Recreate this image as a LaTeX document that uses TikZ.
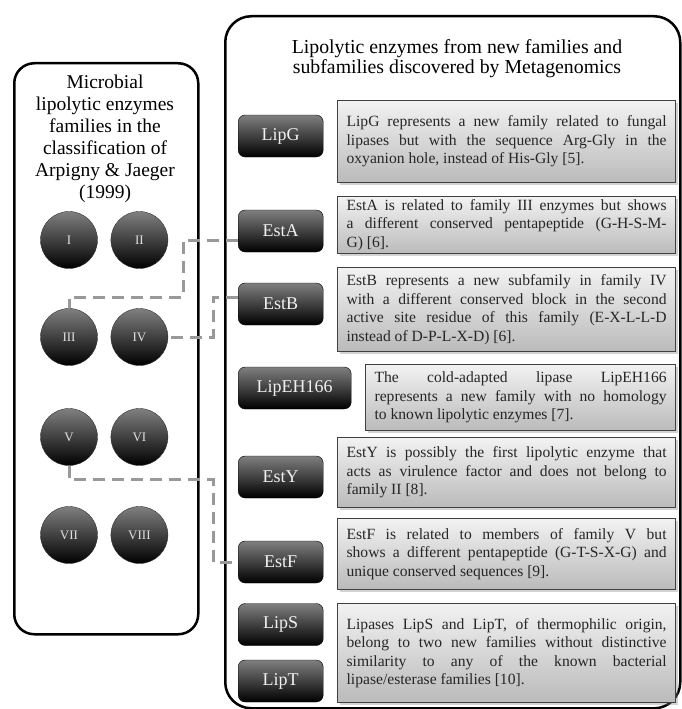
\documentclass[tikz,border=0pt]{standalone}
\usepackage{fontspec}
\setmainfont{Liberation Serif}
\usetikzlibrary{positioning}
\usetikzlibrary{shadows}
\newcommand{\descfont}{\fontsize{15.6}{18.5}\selectfont}
\tikzset{panel/.style={draw,line width=2.5pt,rounded corners=20pt,inner sep=0pt,anchor=north west}}
\tikzset{family/.style={circle,draw=black!80,top color=black!50,bottom color=black,minimum size=57pt,inner sep=0pt,text=black!12,font=\fontsize{13}{13}\selectfont}}
\tikzset{enzyme/.style={draw=black,rounded corners=7pt,top color=black!50,bottom color=black,minimum width=85pt,minimum height=42pt,inner sep=0pt,text=black!6,font=\fontsize{18}{18}\selectfont,anchor=west}}
\tikzset{descr/.style={draw=black!75,line width=1.2pt,top color=black!5,bottom color=black!27,text width=320pt,inner xsep=9pt,inner ysep=0pt,align=justify,anchor=north west,text=black!85,font=\descfont,drop shadow={opacity=0.35,shadow xshift=2pt,shadow yshift=-2pt}}}
\tikzset{link/.style={draw=black!40,line width=3pt,dash pattern=on 12pt off 7pt}}

\begin{document}
\begin{tikzpicture}[x=1pt,y=-1pt]
        \useasboundingbox (0,0) rectangle (681,709);
        % the two panels
        \node[panel,minimum width=184pt,minimum height=571pt] (famPanel) at (13,62) {};
        \node[panel,rounded corners=26pt,minimum width=455pt,minimum height=692pt] (newPanel) at (224,15) {};
        \node[anchor=north,inner sep=0pt,align=center,font=\fontsize{19.5}{22}\selectfont] (famTitle) at (105,75)
            {Microbial\\lipolytic enzymes\\families in the\\classification of\\Arpigny \& Jaeger\\(1999)};
        \node[anchor=north,inner sep=0pt,align=center,font=\fontsize{19.8}{20.5}\selectfont] (newTitle) at (457,39)
            {Lipolytic enzymes from new families and\\subfamilies discovered by Metagenomics};
        % families of Arpigny & Jaeger
        \foreach \l/\r/\y in {I/II/240,III/IV/337,V/VI/437,VII/VIII/535}{
            \node[family] (f\l) at (69,\y) {\l};
            \node[family,right=13pt of f\l] (f\r) {\r};
        }
        % new families
        \node[enzyme] (lipG) at (238,136) {LipG};
        \node[enzyme] (estA) at (238,231) {EstA};
        \node[enzyme] (estB) at (238,304) {EstB};
        \node[enzyme,minimum width=113pt] (lipEH) at (238,388) {LipEH166};
        \node[enzyme] (estY) at (238,477) {EstY};
        \node[enzyme] (estF) at (238,562) {EstF};
        \node[enzyme] (lipS) at (238,624.5) {LipS};
        \node[enzyme] (lipT) at (238,681) {LipT};
        \node[descr,minimum height=82pt] (dLipG) at (337,100)
            {LipG represents a new family related to fungal\linebreak lipases but with the sequence Arg-Gly in the\linebreak oxyanion hole, instead of His-Gly [5].};
        \node[descr,minimum height=57pt] (dEstA) at (337,196)
            {EstA is related to family III enzymes but shows\linebreak a different conserved pentapeptide (G-H-S-M-\linebreak G) [6].};
        \node[descr,minimum height=84pt] (dEstB) at (337,267)
            {EstB represents a new subfamily in family IV\linebreak with a different conserved block in the second\linebreak active site residue of this family (E-X-L-L-D\linebreak instead of D-P-L-X-D) [6].};
        \node[descr,text width=292pt,minimum height=66pt] (dLipEH) at (365,364)
            {The cold-adapted lipase LipEH166\linebreak represents a new family with no homology\linebreak to known lipolytic enzymes [7].};
        \node[descr,minimum height=70pt] (dEstY) at (337,437)
            {EstY is possibly the first lipolytic enzyme that\linebreak acts as virulence factor and does not belong to\linebreak family II [8].};
        \node[descr,minimum height=71pt] (dEstF) at (337,518)
            {EstF is related to members of family V but\linebreak shows a different pentapeptide (G-T-S-X-G) and\linebreak unique conserved sequences [9].};
        \node[descr,minimum height=99pt] (dLipST) at (337,603)
            {Lipases LipS and LipT, of thermophilic origin,\linebreak belong to two new families without distinctive\linebreak similarity to any of the known bacterial\linebreak lipase/esterase families [10].};
        % links to the old families
        \draw[link] ([yshift=-9pt]estA.west) -- ++(-55,0) -- ++(0,57) -| (fIII.north);
        \draw[link] ([yshift=7pt]estB.west) -- ++(-25,0) |- (fIV.east);
        \draw[link] (fV.south) -- ++(0,14) -- ++(144,0) |- (estF.west);
\end{tikzpicture}
\end{document}
